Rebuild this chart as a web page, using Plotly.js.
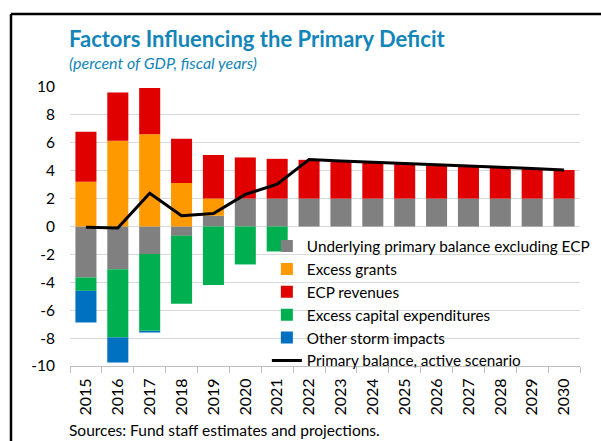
<!DOCTYPE html>
<html>
<head>
<meta charset="utf-8">
<script src="https://cdn.plot.ly/plotly-3.0.1.min.js"></script>
<style>
html,body{margin:0;padding:0;background:#fff;}
#chart{width:601px;height:441px;}
</style>
</head>
<body>
<div id="chart"></div>
<script>
const years = ['2015','2016','2017','2018','2019','2020','2021','2022','2023','2024','2025','2026','2027','2028','2029','2030'];
const underlying = [-3.65,-3.06,-1.98,-0.67,0.77,2.0,2.0,2.0,2.0,2.0,2.0,2.0,2.0,2.0,2.0,2.0];
const excessGrants = [3.2,6.14,6.62,3.11,1.24,0,0,0,0,0,0,0,0,0,0,0];
const ecpRevenues = [3.6,3.46,3.3,3.18,3.11,2.95,2.85,2.78,2.7,2.62,2.53,2.44,2.35,2.25,2.15,2.05];
const excessCapex = [-0.96,-4.89,-5.5,-4.87,-4.2,-2.72,-1.79,0,0,0,0,0,0,0,0,0];
const otherStorm = [-2.27,-1.8,-0.12,0,0,0,0,0,0,0,0,0,0,0,0,0];
const primaryBalance = [-0.05,-0.1,2.39,0.77,0.93,2.3,3.04,4.8,4.7,4.62,4.53,4.44,4.35,4.25,4.15,4.05];
const yTicks = [-10,-8,-6,-4,-2,0,2,4,6,8,10];

const F = 'Lato, "Open Sans", sans-serif';
function bar(name, y, color){
  return {type:'bar', name:name, x:years, y:y, marker:{color:color, line:{width:0}}, hoverinfo:'x+y'};
}
const traces = [
  bar('Underlying primary balance excluding ECP', underlying, '#808080'),
  bar('Excess grants', excessGrants, '#ff9900'),
  bar('ECP revenues', ecpRevenues, '#e00000'),
  bar('Excess capital expenditures', excessCapex, '#00b050'),
  bar('Other storm impacts', otherStorm, '#0070c0'),
  {type:'scatter', mode:'lines', name:'Primary balance, active scenario', x:years, y:primaryBalance,
   line:{color:'#000000', width:3}}
];

const layout = {
  width:601, height:441,
  margin:{l:70, r:21, t:87, b:75, autoexpand:false},
  paper_bgcolor:'#ffffff', plot_bgcolor:'#ffffff',
  barmode:'relative', bargap:0.34,
  font:{family:F, size:14, color:'#000'},
  showlegend:true,
  legend:{x:0.386, y:0.489, xanchor:'left', yanchor:'top', traceorder:'normal',
    bgcolor:'rgba(0,0,0,0)', font:{family:F, size:15.3, color:'#000'}},
  xaxis:{type:'category', tickangle:-90, ticks:'outside', tickson:'boundaries', ticklen:6,
    tickcolor:'#bfbfbf', showline:true, linecolor:'#bfbfbf', showgrid:false, ticklabelstandoff:5,
    tickfont:{family:F, size:16, color:'#000'}, fixedrange:true},
  yaxis:{range:[-10,10], tickvals:yTicks, ticktext:yTicks.map(String), showgrid:true,
    gridcolor:'#d9d9d9', gridwidth:1, zeroline:true, zerolinecolor:'#d9d9d9', zerolinewidth:1,
    showline:false, ticks:'', ticklabelstandoff:14,
    tickfont:{family:F, size:15.5, color:'#000'}, fixedrange:true},
  annotations:[
    {xref:'paper', yref:'paper', x:-0.006, y:1.1756, xanchor:'left', yanchor:'middle', showarrow:false,
     text:'<b>Factors Influencing the Primary Deficit</b>', font:{family:F, size:22, color:'#1385b8'}},
    {xref:'paper', yref:'paper', x:-0.006, y:1.0896, xanchor:'left', yanchor:'middle', showarrow:false,
     text:'<i>(percent of GDP, fiscal years)</i>', font:{family:F, size:16, color:'#1385b8'}},
    {xref:'paper', yref:'paper', x:-0.006, y:-0.229, xanchor:'left', yanchor:'middle', showarrow:false,
     text:'Sources: Fund staff estimates and projections.', font:{family:F, size:15.5, color:'#000'}}
  ],
  shapes:[
    {type:'line', xref:'paper', yref:'paper', x0:-0.1157, x1:-0.1157, y0:-0.3, y1:1.2616, line:{color:'#000', width:2.5}},
    {type:'line', xref:'paper', yref:'paper', x0:-0.1157, x1:1.06, y0:1.2616, y1:1.2616, line:{color:'#000', width:2.5}}
  ]
};
Plotly.newPlot('chart', traces, layout, {displayModeBar:false, staticPlot:true});
</script>
</body>
</html>
